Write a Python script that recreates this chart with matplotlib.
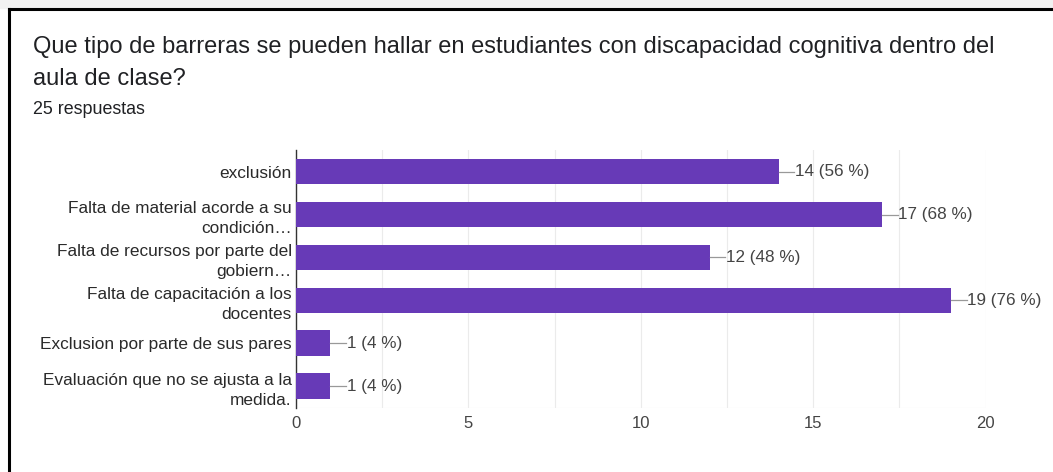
import matplotlib.pyplot as plt
from matplotlib.lines import Line2D
from matplotlib.patches import Rectangle

# Datos de la encuesta
categorias = ['exclusión',
              'Falta de material acorde a su\ncondición…',
              'Falta de recursos por parte del\ngobiern…',
              'Falta de capacitación a los\ndocentes',
              'Exclusion por parte de sus pares',
              'Evaluación que no se ajusta a la\nmedida.']
conteos = [14, 17, 12, 19, 1, 1]
porcentajes = [56, 68, 48, 76, 4, 4]
ticks_x = [0, 5, 10, 15, 20]

fig = plt.figure(figsize=(10.53, 4.72), dpi=100)
ax = fig.add_axes([0.281, 0.136, 0.655, 0.546])

y = list(range(len(categorias)))
ax.barh(y, conteos, height=0.6, color='#673ab7', zorder=3)

for i, (c, p) in enumerate(zip(conteos, porcentajes)):
    ax.plot([c, c + 0.45], [i, i], color='#999999', lw=0.9, zorder=3)
    ax.text(c + 0.47, i, '{} ({} %)'.format(c, p), va='center', ha='left',
            fontsize=12.3, color='#444444', family='Liberation Sans')

ax.set_xlim(0, 20)
ax.set_ylim(5.5, -0.5)
ax.set_yticks(y)
ax.set_yticklabels(categorias, fontsize=12.4, color='#2a2a2a', family='Liberation Sans',
                   linespacing=1.4)
ax.set_xticks(ticks_x)
ax.set_xticklabels([str(t) for t in ticks_x], fontsize=12, color='#444444',
                   family='Liberation Sans')
ax.set_xticks([2.5, 7.5, 12.5, 17.5], minor=True)
ax.tick_params(axis='both', which='both', length=0, pad=6)
ax.tick_params(axis='y', pad=3)
ax.grid(axis='x', which='both', color='#ebebeb', lw=0.8, zorder=0)

for s in ['top', 'right', 'bottom']:
    ax.spines[s].set_visible(False)
ax.spines['left'].set_color('#333333')
ax.spines['left'].set_linewidth(1.0)
ax.axhline(5.5, color='#ebebeb', lw=0.8, zorder=0)

# Franja gris superior y borde de la tarjeta
fig.add_artist(Rectangle((0, 1 - 8 / 472), 1, 8 / 472, transform=fig.transFigure,
                         color='#f1f1f1', zorder=0))
fig.add_artist(Line2D([9 / 1053, 1], [1 - 9 / 472, 1 - 9 / 472], transform=fig.transFigure,
                      color='black', lw=2.2))
fig.add_artist(Line2D([9 / 1053, 9 / 1053], [0, 1 - 9 / 472], transform=fig.transFigure,
                      color='black', lw=2.2))

fig.text(33 / 1053, 1 - 47 / 472,
         'Que tipo de barreras se pueden hallar en estudiantes con discapacidad cognitiva dentro del',
         fontsize=17, family='Liberation Sans', color='#202124', va='center')
fig.text(33 / 1053, 1 - 79 / 472, 'aula de clase?', fontsize=17, family='Liberation Sans',
         color='#202124', va='center')
fig.text(33 / 1053, 1 - 110 / 472, '25 respuestas', fontsize=12.9, family='Liberation Sans',
         color='#202124', va='center')

fig.savefig('out.png', dpi=100)
